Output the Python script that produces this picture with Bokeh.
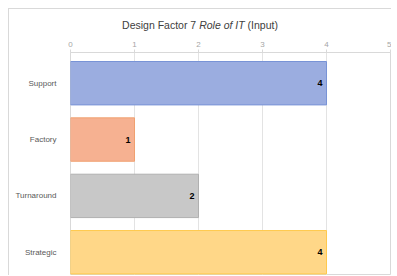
from bokeh.plotting import figure
from bokeh.models import Range1d, FixedTicker, ColumnDataSource, Div
from bokeh.layouts import column
from bokeh.core.properties import value
from bokeh.embed import file_html
from bokeh.resources import INLINE

categories = ["Support", "Factory", "Turnaround", "Strategic"]
values = [4, 1, 2, 4]
fill_colors = ["#9badE0", "#f6b191", "#c8c8c8", "#ffd788"]
line_colors = ["#7893d6", "#f0a070", "#b0b0b0", "#ffc94d"]
x_ticks = [0, 1, 2, 3, 4, 5]
title_html = 'Design Factor 7 <i>Role of IT</i> (Input)'

n = len(categories)
y_pos = [n - 1 - i for i in range(n)]

src = ColumnDataSource(dict(
    cat=categories, val=values, y=y_pos,
    fill=fill_colors, line=line_colors,
    lbl=[str(v) for v in values],
))

p = figure(
    width=382, height=238, output_backend="svg", toolbar_location=None,
    x_range=Range1d(0, 5), y_range=Range1d(-0.413, 3.545),
    x_axis_location="above", min_border_left=61, min_border_right=1,
    min_border_top=15, min_border_bottom=0, margin=0,
)
p.outline_line_color = "#d9d9d9"
p.background_fill_color = "white"
p.border_fill_color = "white"

p.hbar(y="y", left=0, right="val", height=0.77, source=src,
       fill_color="fill", line_color="line", line_width=1)
p.text(x="val", y="y", text="lbl", source=src, x_offset=-4,
       text_align="right", text_baseline="middle", text_font_size="9px",
       text_font_style="bold", text_color="black", text_font=value("Liberation Sans"))

xa = p.xaxis[0]
xa.ticker = FixedTicker(ticks=x_ticks)
xa.axis_line_color = "#d9d9d9"
xa.major_tick_line_color = "#d9d9d9"
xa.major_tick_in = 0
xa.major_tick_out = 3
xa.minor_tick_line_color = None
xa.major_label_text_font_size = "8px"
xa.major_label_text_color = "#a6a6a6"
xa.major_label_text_font = "Liberation Sans"
xa.major_label_standoff = 3

ya = p.yaxis[0]
ya.ticker = FixedTicker(ticks=y_pos)
ya.major_label_overrides = {y: c for y, c in zip(y_pos, categories)}
ya.axis_line_color = None
ya.major_tick_line_color = None
ya.minor_tick_line_color = None
ya.major_label_text_font_size = "8px"
ya.major_label_text_color = "#595959"
ya.major_label_text_font = "Liberation Sans"
ya.major_label_standoff = 8

p.xgrid.ticker = FixedTicker(ticks=x_ticks)
p.xgrid.grid_line_color = "#e3e3e3"
p.ygrid.grid_line_color = None

title = Div(text=title_html, width=382, height=28, margin=0,
            styles={"font-family": "Liberation Sans", "font-size": "10.5px", "color": "#404040",
                    "text-align": "center", "line-height": "10px", "padding-top": "11px",
                    "box-sizing": "border-box", "background": "white"})

layout = column(title, p, spacing=0, margin=0,
                styles={"margin-left": "8px", "margin-top": "8px",
                        "border-left": "1px solid #d9d9d9", "border-top": "1px solid #d9d9d9",
                        "background": "white"})

open("out.html", "w").write(file_html(layout, INLINE))
